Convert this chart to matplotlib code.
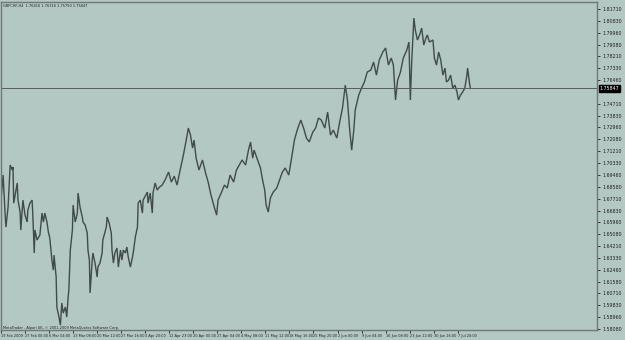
import matplotlib
matplotlib.use("Agg")
import matplotlib.pyplot as plt
from matplotlib import font_manager
import numpy as np

# ---- data (H4 bar index, price) ----
bars = [0, 3, 6, 7, 10, 13, 16, 17, 18, 23, 24, 27, 28, 31, 34, 37, 38, 41, 44, 45, 47, 48, 51, 55, 58, 60, 62, 65, 67, 69,
        72, 74, 75, 78, 79, 82, 84, 86, 88, 91, 93, 95, 96, 98, 101, 102, 105, 108, 109, 112, 115, 116, 119, 122, 123, 125,
        126, 129, 130, 133, 136, 137, 140, 143, 144, 149, 150, 153, 156, 157, 159, 161, 164, 166, 169, 171, 173, 176, 178,
        180, 183, 186, 187, 190, 193, 194, 197, 200, 201, 207, 208, 211, 214, 215, 218, 221, 224,
        228, 232, 237, 241, 245, 249, 254, 258, 262, 265, 268, 271, 273, 276, 280, 285, 289, 293, 297, 302, 305, 307, 312,
        316, 320, 324, 329, 333, 337, 341, 346, 350, 353, 356, 358, 363, 367, 370, 373, 375, 378, 381, 385, 390, 394, 398,
        402, 407, 411, 415, 419, 424, 428, 432, 436, 441, 445, 449, 453, 458, 462, 466, 470, 475, 479, 483, 487, 490, 493,
        496, 499, 501, 506, 510, 514, 518, 523, 527, 531, 535, 540, 544, 548, 552, 555, 558, 561, 565, 569, 574, 577, 579,
        581, 584, 586, 589, 592, 595, 598, 601, 603, 606, 611, 613, 616, 619, 622, 625, 628, 630, 633, 636, 639, 642, 645,
        647, 650, 653, 656, 659, 660, 663, 664]
prices = [1.6760, 1.6945, 1.6635, 1.6561, 1.6709, 1.7019, 1.6982, 1.7004, 1.6738, 1.6886, 1.6760, 1.6672, 1.6539, 1.6760,
          1.6649, 1.6598, 1.6686, 1.6738, 1.6760, 1.6649, 1.6369, 1.6539, 1.6465, 1.6502, 1.6664, 1.6598, 1.6664, 1.6598,
          1.6524, 1.6480, 1.6317, 1.6243, 1.6354, 1.6192, 1.5970, 1.5896, 1.5837, 1.6000, 1.5926, 1.5970, 1.5896, 1.6044,
          1.6096, 1.6391, 1.6539, 1.6723, 1.6598, 1.6664, 1.6812, 1.6701, 1.6635, 1.6598, 1.6576, 1.6516, 1.6391, 1.6317,
          1.6074, 1.6317, 1.6369, 1.6295, 1.6192, 1.6266, 1.6295, 1.6369, 1.6465, 1.6561, 1.6635, 1.6590, 1.6516, 1.6391,
          1.6295, 1.6369, 1.6406, 1.6266, 1.6391, 1.6317, 1.6391, 1.6369, 1.6413, 1.6339, 1.6266, 1.6339, 1.6369, 1.6487,
          1.6561, 1.6738, 1.6760, 1.6664, 1.6760, 1.6819, 1.6738, 1.6812, 1.6664, 1.6812, 1.6886, 1.6834, 1.6856,
          1.6871, 1.6908, 1.6967, 1.6893, 1.6937, 1.6871, 1.6997, 1.7093, 1.7203, 1.7292, 1.7240, 1.7144, 1.7203, 1.7070,
          1.6982, 1.7056, 1.6967, 1.6893, 1.6797, 1.6701, 1.6649, 1.6760, 1.6819, 1.6871, 1.6849, 1.6945, 1.6893, 1.6982,
          1.7019, 1.7056, 1.7019, 1.7129, 1.7189, 1.7070, 1.7129, 1.7056, 1.6997, 1.6908, 1.6834, 1.6723, 1.6672, 1.6775,
          1.6819, 1.6849, 1.6908, 1.6967, 1.6997, 1.6945, 1.7070, 1.7203, 1.7277, 1.7351, 1.7292, 1.7218, 1.7189, 1.7262,
          1.7292, 1.7366, 1.7351, 1.7292, 1.7410, 1.7240, 1.7277, 1.7218, 1.7336, 1.7440, 1.7609, 1.7499, 1.7292, 1.7129,
          1.7277, 1.7425, 1.7536, 1.7587, 1.7632, 1.7705, 1.7720, 1.7779, 1.7683, 1.7794, 1.7853, 1.7883, 1.7757, 1.7809,
          1.7757, 1.7499, 1.7646, 1.7705, 1.7809, 1.7868, 1.7927, 1.7499, 1.7794, 1.8104, 1.8016, 1.7942, 1.7979, 1.8030,
          1.7905, 1.7956, 1.7979, 1.7927, 1.7942, 1.7809, 1.7757, 1.7853, 1.7794, 1.7683, 1.7735, 1.7632, 1.7646, 1.7683,
          1.7587, 1.7609, 1.7558, 1.7499, 1.7536, 1.7558, 1.7587, 1.7683, 1.7735, 1.7609, 1.7585]

date_labels = ["19 Feb 2009", "27 Feb 00:00", "6 Mar 04:00", "13 Mar 08:00", "20 Mar 12:00", "27 Mar 16:00",
               "3 Apr 20:00", "12 Apr 23:00", "20 Apr 00:00", "27 Apr 04:00", "4 May 08:00", "11 May 12:00",
               "18 May 16:00", "25 May 20:00", "2 Jun 00:00", "9 Jun 04:00", "16 Jun 08:00", "23 Jun 12:00",
               "30 Jun 16:00", "7 Jul 20:00"]
date_bars = [0, 34, 68, 102, 136, 170, 204, 238, 272, 306, 340, 374, 408, 442, 476, 510, 544, 578, 612, 646]

price_ticks = [1.8171, 1.8083, 1.7996, 1.7908, 1.7821, 1.7733, 1.7646, 1.7471, 1.7383, 1.7296, 1.7208,
               1.7121, 1.7033, 1.6946, 1.6858, 1.6771, 1.6683, 1.6596, 1.6508, 1.6421, 1.6333, 1.6246, 1.6158,
               1.6071, 1.5983, 1.5896, 1.5808]
current_price = 1.75847
header = "GBPCHF,H4  1.76416 1.76316 1.75750 1.75847"
footer = "MetaTrader - Alpari UK, \u00a9 2001-2009 MetaQuotes Software Corp."

names = {f.name for f in font_manager.fontManager.ttflist}
NARROW = "Liberation Sans Narrow" if "Liberation Sans Narrow" in names else "DejaVu Sans"
SMALL = 3.0 if NARROW != "DejaVu Sans" else 2.5

BG = "#b3c7c3"
LINE = "#404c4a"
W, H = 625, 340
fig = plt.figure(figsize=(W / 100, H / 100), dpi=100, facecolor=BG)
ax = fig.add_axes([1 / W, 10 / H, 596 / W, 328 / H])
ax.set_facecolor(BG)

ax.plot(bars, prices, color=LINE, lw=1.0, solid_joinstyle="miter")
ax.axhline(current_price, color="#555f5d", lw=0.7)

ax.set_xlim(0, 843)
ax.set_ylim(1.58007, 1.82227)

for s in ax.spines.values():
    s.set_color("#6f7a78")
    s.set_linewidth(1.0)

ax.yaxis.tick_right()
ax.set_yticks(price_ticks)
ax.set_yticklabels([f"{p:.4f}0" for p in price_ticks], family=NARROW)
ax.tick_params(axis="y", length=2.5, width=0.6, pad=1.5, labelsize=3.4, colors="#202020")
ax.set_xticks(date_bars)
ax.set_xticklabels(date_labels, family=NARROW)
ax.tick_params(axis="x", length=2.5, width=0.6, pad=0.5, labelsize=SMALL, colors="#202020")
for lbl in ax.get_xticklabels():
    lbl.set_horizontalalignment("left")

fig.text(3 / W, 1 - 6 / H, header, fontsize=SMALL, family=NARROW, color="#202020", va="center", ha="left")
fig.text(3 / W, 12.5 / H, footer, fontsize=SMALL, family=NARROW, color="#202020", va="center", ha="left")

# current price marker on the scale
ax.annotate(f"{current_price:.5f}", xy=(1.0, current_price), xycoords=("axes fraction", "data"),
            xytext=(2, 0), textcoords="offset points", fontsize=3.4, family=NARROW, color="white",
            va="center", ha="left",
            bbox=dict(boxstyle="square,pad=0.15", fc="black", ec="black"), annotation_clip=False)

fig.savefig("out.png", dpi=100, facecolor=BG)
